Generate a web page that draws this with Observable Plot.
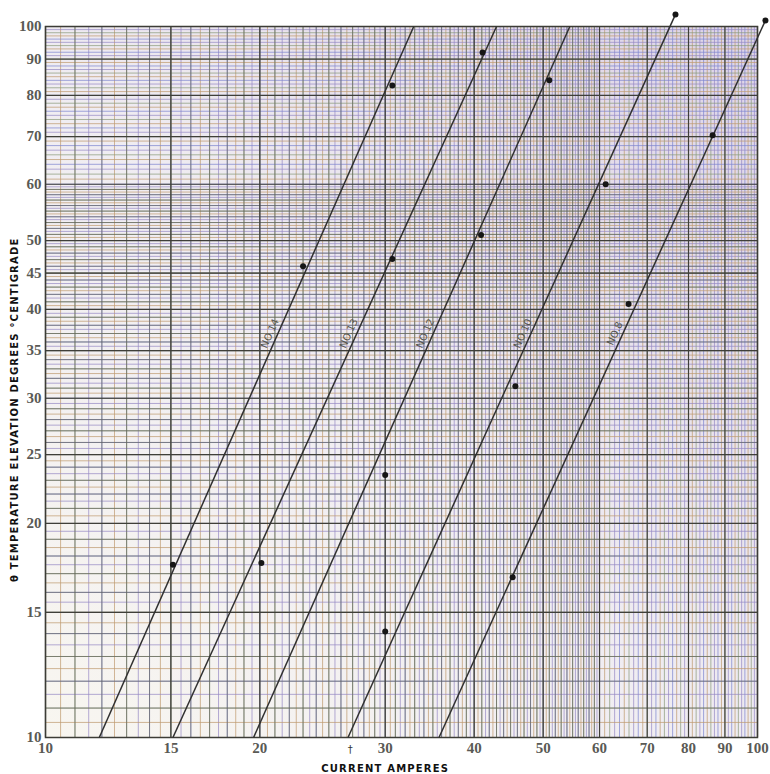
<!DOCTYPE html>
<html><head><meta charset="utf-8">
<script src="https://cdn.jsdelivr.net/npm/d3@7"></script>
<script src="https://cdn.jsdelivr.net/npm/@observablehq/plot@0.6"></script>
<style>body{margin:0;background:#fff}</style>
</head><body><div id="chart"></div>
<script>
// Tick labels
const xTicks = [10, 15, 20, 30, 40, 50, 60, 70, 80, 90, 100];
const yTicks = [10, 15, 20, 25, 30, 35, 40, 45, 50, 60, 70, 80, 90, 100];

// Wire-size lines (current in amperes vs temperature elevation °C)
const lineNames = ["NO.14", "NO.13", "NO.12", "NO.10", "NO.8"];
const lineStartAmps = [11.9, 15.1, 19.6, 26.6, 35.7];
const lineStartTemp = [10, 10, 10, 10, 10];
const lineEndAmps = [32.9, 43.0, 54.5, 76.7, 102.6];
const lineEndTemp = [100, 100, 100, 104, 102];
const labelTemp = 37;

// Observed points
const pointAmps  = [15.1, 20.1, 23.0, 30.7, 30.7, 30.0, 30.0, 41.1, 40.9, 51.0, 45.7, 61.2, 45.3, 65.9, 86.5, 76.7, 102.6];
const pointTemps = [17.5, 17.6, 46.0, 82.6, 47.1, 23.4, 14.1, 91.9, 50.9, 84.0, 31.2, 60.0, 16.8, 40.7, 70.3, 104, 102];

const xTitle = "CURRENT AMPERES";
const yTitle = "θ TEMPERATURE ELEVATION DEGREES °CENTIGRADE";

// tables built from the arrays
const lines = lineNames.map((n, i) => ({name: n, x1: lineStartAmps[i], y1: lineStartTemp[i], x2: lineEndAmps[i], y2: lineEndTemp[i]}));
const points = pointAmps.map((a, i) => ({a, t: pointTemps[i]}));
const labels = lines.map(l => {
  const f = (Math.log10(labelTemp) - Math.log10(l.y1)) / (Math.log10(l.y2) - Math.log10(l.y1));
  const lx = Math.pow(10, Math.log10(l.x1) + f * (Math.log10(l.x2) - Math.log10(l.x1)));
  return {name: l.name, x: lx, y: labelTemp};
});

// log-paper ruling
const fine = d3.range(10, 60, 0.5).concat(d3.range(60, 100.001, 1));
const fineColors = ["#7d86cf", "#bf9a70", "#8a9a7a", "#978ac4"];
const fineGrid = fine.map((v, i) => ({v, c: fineColors[i % fineColors.length]}));
const ints = d3.range(10, 60, 1);

const plot = Plot.plot({
  width: 770,
  height: 774,
  marginTop: 26,
  marginRight: 13,
  marginBottom: 37,
  marginLeft: 45,
  style: {fontFamily: "'Liberation Serif', serif", fontSize: "15px", fontWeight: "bold", color: "#5a5a55", background: "#fff"},
  color: {type: "identity"},
  x: {type: "log", domain: [10, 100], ticks: xTicks, tickFormat: d => String(d), tickSize: 0, tickPadding: 5, label: null},
  y: {type: "log", domain: [10, 100], ticks: yTicks, tickFormat: d => String(d), tickSize: 0, tickPadding: 4, label: null},
  marks: [
    Plot.frame({fill: "url(#paper)", stroke: null}),
    Plot.ruleX(fineGrid, {x: "v", stroke: "c", strokeOpacity: 0.85, strokeWidth: 0.85}),
    Plot.ruleY(fineGrid, {y: "v", stroke: "c", strokeOpacity: 0.85, strokeWidth: 0.85}),
    Plot.ruleX(ints, {stroke: "#62625a", strokeOpacity: 0.75, strokeWidth: 0.9}),
    Plot.ruleY(ints, {stroke: "#62625a", strokeOpacity: 0.75, strokeWidth: 0.9}),
    Plot.ruleX(xTicks, {stroke: "#3f3f39", strokeWidth: 1.2}),
    Plot.ruleY(yTicks, {stroke: "#3f3f39", strokeWidth: 1.2}),
    Plot.frame({stroke: "#3c3c36", strokeWidth: 1.5}),
    Plot.link(lines, {x1: "x1", y1: "y1", x2: "x2", y2: "y2", stroke: "#303030", strokeWidth: 1.5}),
    Plot.dot(points, {x: "a", y: "t", r: 3, fill: "#161616", stroke: "none"}),
    Plot.text(labels, {x: "x", y: "y", text: "name", rotate: -66, dx: -8, fontFamily: "'DejaVu Sans', sans-serif", fontSize: 10, fontWeight: "normal", fill: "#55554e"}),
    Plot.text([xTitle], {x: 30, y: 10, dy: 31, fontFamily: "'DejaVu Sans', sans-serif", fontSize: 10, fontWeight: "bold", fill: "#111", className: "ttl"}),
    Plot.text([yTitle], {x: 10, y: 28.9, dx: -31, rotate: -90, fontFamily: "'DejaVu Sans', sans-serif", fontSize: 10, fontWeight: "bold", fill: "#111", className: "ttl"}),
    Plot.text(["†"], {x: 26.8, y: 10, dy: 12, fontFamily: "'DejaVu Sans', sans-serif", fontSize: 10, fontWeight: "normal", fill: "#333"})
  ]
});

d3.select(plot).insert("defs", ":first-child").html(`
  <linearGradient id="paper" x1="0" y1="1" x2="1" y2="0">
    <stop offset="0" stop-color="#f8f6f0"/>
    <stop offset="0.45" stop-color="#f0edf2"/>
    <stop offset="0.75" stop-color="#e6dfea"/>
    <stop offset="1" stop-color="#dcd3e8"/>
  </linearGradient>`);
d3.select(plot).selectAll(".ttl text").attr("letter-spacing", 1.2);

document.getElementById("chart").appendChild(plot);
</script>
</body></html>
